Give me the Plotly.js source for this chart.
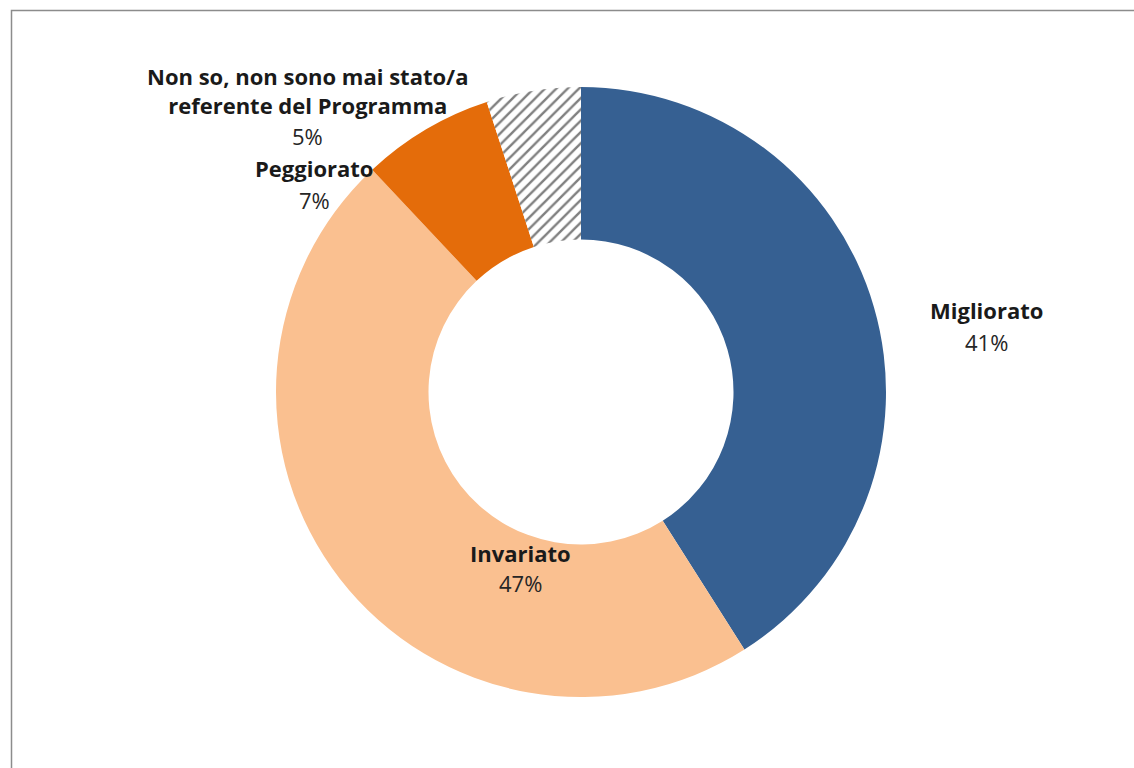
<!DOCTYPE html>
<html>
<head>
<meta charset="utf-8">
<script src="https://cdn.plot.ly/plotly-3.0.1.min.js"></script>
<style>
  html, body { margin: 0; padding: 0; background: #ffffff; }
  #chart { width: 1134px; height: 768px; }
</style>
</head>
<body>
<div id="chart"></div>
<script>
// ---- data ----
const categories = [
  "Migliorato",
  "Invariato",
  "Peggiorato",
  "Non so, non sono mai stato/a<br>referente del Programma"
];
const shares = [41, 47, 7, 5];
const percentLabels = ["41%", "47%", "7%", "5%"];
const sliceColors = ["#366092", "#FAC090", "#E46C0A", "#FFFFFF"];

// label anchor positions (pixels in the 1134x768 frame) for each category
const labelXpx = [986, 520, 314, 307];
const nameYpx = [310, 553, 168, 90];
const pctYpx = [342, 583, 200, 136];

const FONT = "Open Sans, Lato, sans-serif";

const trace = {
  type: "pie",
  labels: categories,
  values: shares,
  sort: false,
  direction: "clockwise",
  rotation: 0,
  hole: 0.5,
  textinfo: "none",
  hoverinfo: "label+percent",
  showlegend: false,
  domain: {
    x: [(581 - 305) / 1134, (581 + 305) / 1134],
    y: [(376 - 305) / 768, (376 + 305) / 768]
  },
  marker: {
    colors: sliceColors,
    line: { width: 0 },
    pattern: {
      shape: ["", "", "", "/"],
      fgcolor: "#808080",
      bgcolor: ["#366092", "#FAC090", "#E46C0A", "#FFFFFF"],
      size: 8,
      solidity: 0.3
    }
  }
};

const annotations = [];
categories.forEach((c, i) => {
  annotations.push({
    xref: "paper", yref: "paper",
    x: labelXpx[i] / 1134, y: 1 - nameYpx[i] / 768,
    xanchor: "center", yanchor: "middle",
    showarrow: false, align: "center",
    text: "<b>" + c + "</b>",
    font: { family: FONT, size: 22, color: "#1a1a1a" }
  });
  annotations.push({
    xref: "paper", yref: "paper",
    x: labelXpx[i] / 1134, y: 1 - pctYpx[i] / 768,
    xanchor: "center", yanchor: "middle",
    showarrow: false, align: "center",
    text: percentLabels[i],
    font: { family: FONT, size: 22, color: "#262626" }
  });
});

const layout = {
  width: 1134,
  height: 768,
  margin: { l: 0, r: 0, t: 0, b: 0 },
  paper_bgcolor: "#ffffff",
  plot_bgcolor: "#ffffff",
  annotations: annotations,
  shapes: [{
    type: "rect", xref: "paper", yref: "paper",
    x0: 11.5 / 1134, x1: 1.02, y0: -0.02, y1: 1 - 10.5 / 768,
    line: { color: "#8C8C8C", width: 1.5 },
    fillcolor: "rgba(0,0,0,0)"
  }]
};

Plotly.newPlot("chart", [trace], layout, { displayModeBar: false, staticPlot: true });
</script>
</body>
</html>
